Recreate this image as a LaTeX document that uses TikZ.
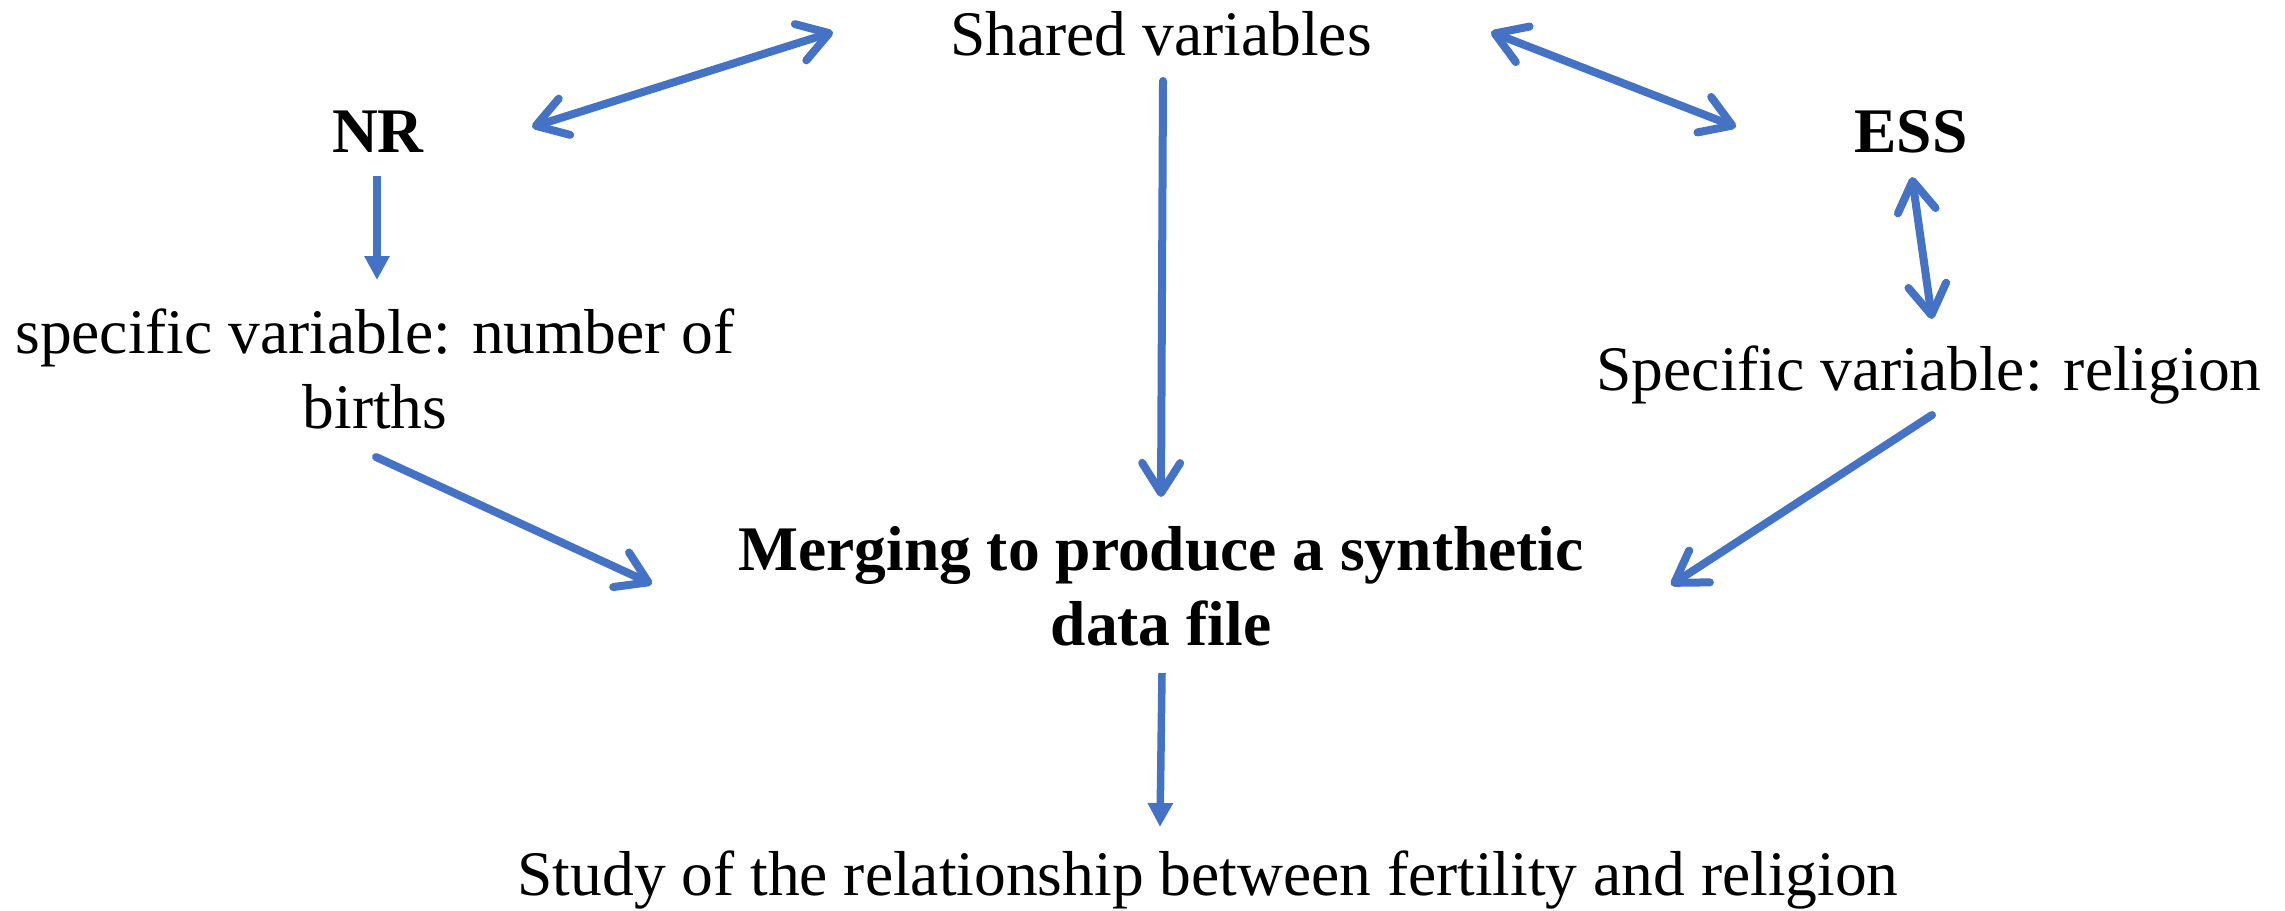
\documentclass[tikz,border=0pt]{standalone}
\usepackage{fontspec}
\setmainfont{Liberation Serif}
\usetikzlibrary{arrows.meta,calc}
\definecolor{arrowblue}{HTML}{4472C4}
\tikzset{
  lbl/.style={anchor=base, inner sep=0pt, align=center, font=\fontsize{63.5}{75}\selectfont},
  blbl/.style={lbl, font=\fontsize{63.5}{75}\selectfont\bfseries},
  conn/.style={draw=arrowblue, line width=8pt, line cap=round},
  onev/.style={conn, arrows={-Straight Barb[length=30pt,width=38pt,round]}},
  twov/.style={conn, arrows={Straight Barb[length=30pt,width=38pt,round]-Straight Barb[length=30pt,width=38pt,round]}},
  tri/.style={conn, line width=7.5pt, line cap=butt, arrows={-Triangle[length=24pt,width=24pt]}}
}
\begin{document}
\begin{tikzpicture}[x=1pt,y=-1pt]
\useasboundingbox (0,0) rectangle (2285,910);
\node[lbl]  (shared) at (1161,55)  {Shared variables};
\node[blbl] (nr)     at (378,152)  {NR};
\node[blbl] (ess)    at (1911,152) {ESS};
\node[lbl]  (spec1)  at (375,428)  {specific variable: number of\\births};
\node[lbl]  (spec2)  at (1929,390) {Specific variable: religion};
\node[blbl] (merge)  at (1161,645) {Merging to produce a synthetic\\data file};
\node[lbl]  (study)  at (1208,895) {Study of the relationship between fertility and religion};

\draw[twov] ($(nr.base)+(154,-25)$) -- ($(shared.base)+(-328,-23)$);
\draw[twov] ($(shared.base)+(330,-23)$) -- ($(ess.base)+(-175,-25)$);
\draw[onev] ($(shared.base)+(2,26)$) -- ($(merge.base)+(0,-148)$);
\draw[tri]  ($(nr.base)+(-1,24)$) -- ($(spec1.base)+(2,-148)$);
\draw[twov] ($(ess.base)+(1,25)$) -- ($(spec2.base)+(3,-71)$);
\draw[onev] ($(spec1.base)+(1,29)$) -- ($(merge.base)+(-509,-61)$);
\draw[onev] ($(spec2.base)+(3,25)$) -- ($(merge.base)+(510,-60)$);
\draw[tri]  ($(merge.base)+(1,28)$) -- ($(study.base)+(-48,-68)$);
\end{tikzpicture}
\end{document}
